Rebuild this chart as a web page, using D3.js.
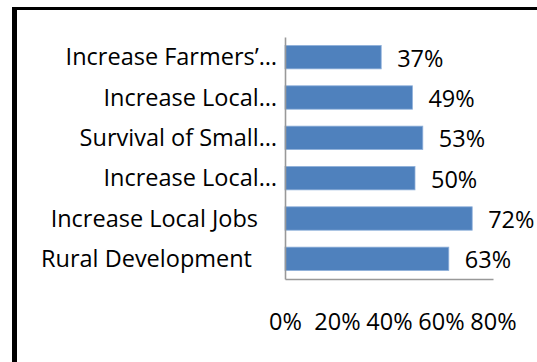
<!DOCTYPE html>
<html>
<head>
<meta charset="utf-8">
<script src="https://cdn.jsdelivr.net/npm/d3@7"></script>
<style>
  html, body { margin: 0; padding: 0; background: #fff; }
  svg { display: block; }
  text { font-family: "Open Sans", Lato, sans-serif; fill: #000; }
</style>
</head>
<body>
<svg id="chart" width="537" height="362"></svg>
<script>
// Survey results: share of respondents naming each benefit
const categories = [
  "Increase Farmers’…",
  "Increase Local…",
  "Survival of Small…",
  "Increase Local…",
  "Increase Local Jobs",
  "Rural Development"
];
const values = [0.37, 0.49, 0.53, 0.50, 0.72, 0.63];
const tickValues = [0, 0.2, 0.4, 0.6, 0.8];

// extra right-side gap for the untruncated labels
const labelGap = { "Increase Local Jobs": 19, "Rural Development": 25 };

const fontSize = 23.5;
const svg = d3.select("#chart");

// frame
svg.append("rect").attr("x", 12).attr("y", 7).attr("width", 5).attr("height", 355).attr("fill", "#000");
svg.append("rect").attr("x", 12).attr("y", 7).attr("width", 525).attr("height", 3).attr("fill", "#000");

const x = d3.scaleLinear().domain([0, 0.8]).range([285, 493]);
const y = d3.scaleBand()
  .domain(d3.range(categories.length))
  .range([37, 279])
  .paddingInner(0.42)
  .paddingOuter(0.21);

// bars
svg.append("g").selectAll("rect")
  .data(values)
  .join("rect")
  .attr("x", x(0))
  .attr("y", (d, i) => y(i))
  .attr("width", d => x(d) - x(0))
  .attr("height", y.bandwidth())
  .attr("fill", "#4F81BD")
  .attr("stroke", "#8EB0DA")
  .attr("stroke-width", 0.8);

// value labels
svg.append("g").selectAll("text")
  .data(values)
  .join("text")
  .attr("x", d => x(d) + 16)
  .attr("y", (d, i) => y(i) + y.bandwidth() / 2 + 9.6)
  .attr("font-size", fontSize)
  .text(d => d3.format(".0%")(d));

// category labels
svg.append("g").selectAll("text")
  .data(categories)
  .join("text")
  .attr("x", d => 277 - (labelGap[d] || 0))
  .attr("y", (d, i) => y(i) + y.bandwidth() / 2 + 8)
  .attr("text-anchor", "end")
  .attr("font-size", fontSize)
  .text(d => d);

// vertical axis line
svg.append("g")
  .attr("transform", `translate(${x(0)},0)`)
  .call(d3.axisLeft(y).tickSize(0).tickFormat(""))
  .call(g => g.select(".domain").attr("stroke", "#999").attr("stroke-width", 1.6));

// horizontal axis with tick labels set well below the line
svg.append("g")
  .attr("transform", `translate(0,${y.range()[1]})`)
  .call(d3.axisBottom(x).tickValues(tickValues).tickSize(0).tickPadding(34).tickFormat(d3.format(".0%")))
  .call(g => g.select(".domain").attr("stroke", "#999").attr("stroke-width", 1.6))
  .call(g => g.selectAll("text").attr("font-size", fontSize).attr("font-family", "'Open Sans', Lato, sans-serif").attr("fill", "#000"));
</script>
</body>
</html>
